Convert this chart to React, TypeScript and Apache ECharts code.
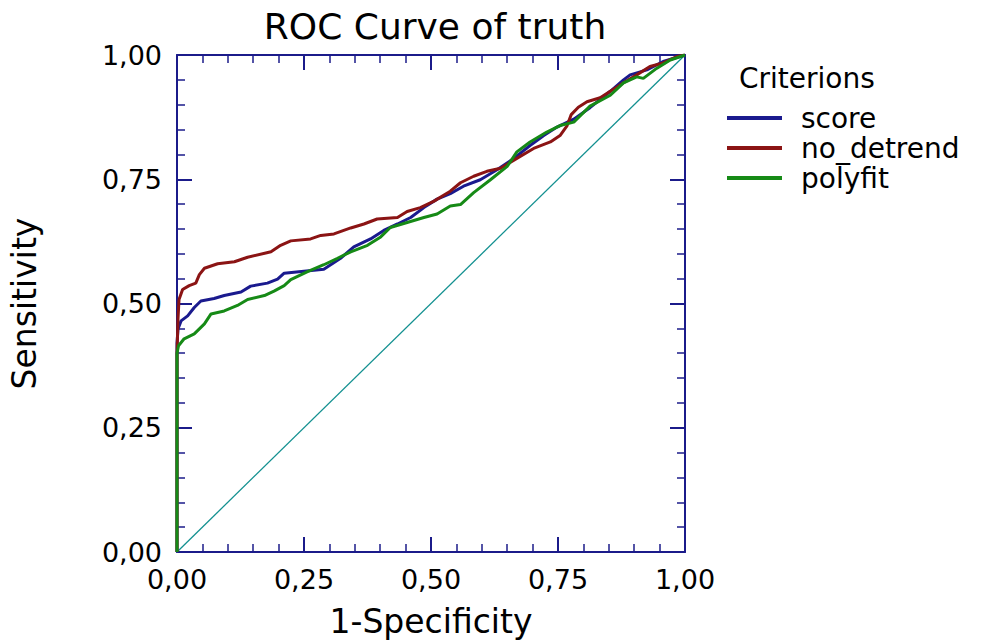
import React, { useEffect, useRef } from "react";
import * as echarts from "echarts";

// ROC curves: [1-Specificity, Sensitivity]
const seriesNames = ["score", "no_detrend", "polyfit"];

const scoreRoc: [number, number][] = [
  [0, 0], [0, 0.42], [0.002, 0.449], [0.008, 0.465], [0.021, 0.475], [0.034, 0.492],
  [0.047, 0.505], [0.073, 0.51], [0.093, 0.516], [0.126, 0.523], [0.145, 0.535],
  [0.178, 0.541], [0.198, 0.549], [0.211, 0.561], [0.24, 0.564], [0.289, 0.569],
  [0.322, 0.591], [0.348, 0.614], [0.381, 0.63], [0.407, 0.647], [0.434, 0.66],
  [0.46, 0.673], [0.486, 0.693], [0.512, 0.71], [0.538, 0.721], [0.564, 0.736],
  [0.597, 0.749], [0.63, 0.769], [0.663, 0.792], [0.695, 0.818], [0.722, 0.838],
  [0.748, 0.855], [0.781, 0.871], [0.813, 0.894], [0.853, 0.927], [0.879, 0.95],
  [0.892, 0.96], [0.925, 0.97], [0.957, 0.987], [1, 1],
];

const noDetrendRoc: [number, number][] = [
  [0, 0], [0, 0.4], [0.002, 0.47], [0.004, 0.508], [0.011, 0.528], [0.024, 0.536],
  [0.037, 0.541], [0.044, 0.558], [0.054, 0.571], [0.08, 0.58], [0.113, 0.584],
  [0.139, 0.593], [0.185, 0.604], [0.204, 0.617], [0.224, 0.626], [0.263, 0.63],
  [0.283, 0.637], [0.309, 0.64], [0.342, 0.652], [0.368, 0.66], [0.394, 0.67],
  [0.434, 0.673], [0.453, 0.685], [0.479, 0.693], [0.506, 0.706], [0.538, 0.726],
  [0.558, 0.743], [0.584, 0.756], [0.61, 0.766], [0.637, 0.772], [0.669, 0.792],
  [0.702, 0.812], [0.735, 0.825], [0.754, 0.838], [0.768, 0.858], [0.776, 0.88],
  [0.79, 0.895], [0.807, 0.906], [0.833, 0.914], [0.859, 0.931], [0.879, 0.944],
  [0.905, 0.96], [0.931, 0.977], [0.957, 0.984], [0.984, 0.997], [1, 1],
];

const polyfitRoc: [number, number][] = [
  [0, 0], [0, 0.4], [0.003, 0.415], [0.014, 0.429], [0.034, 0.439], [0.054, 0.459],
  [0.067, 0.479], [0.093, 0.485], [0.119, 0.496], [0.139, 0.508], [0.172, 0.516],
  [0.191, 0.525], [0.211, 0.536], [0.224, 0.548], [0.257, 0.564], [0.289, 0.578],
  [0.316, 0.591], [0.342, 0.604], [0.375, 0.617], [0.401, 0.634], [0.42, 0.653],
  [0.453, 0.663], [0.486, 0.673], [0.512, 0.68], [0.538, 0.696], [0.558, 0.699],
  [0.584, 0.723], [0.617, 0.749], [0.65, 0.776], [0.669, 0.805], [0.695, 0.825],
  [0.728, 0.845], [0.754, 0.858], [0.781, 0.865], [0.813, 0.897], [0.853, 0.919],
  [0.879, 0.944], [0.905, 0.956], [0.918, 0.953], [0.944, 0.973], [0.971, 0.99], [1, 1],
];

const chanceLine: [number, number][] = [[0, 0], [1, 1]];

const FONT = "DejaVu Sans";
const FRAME = "#1b1b8a";
const COLORS = ["#1a1a8e", "#8b1414", "#168a16"];

const fmt = (v: number) => v.toFixed(2).replace(".", ",");

export default function App() {
  const ref = useRef<HTMLDivElement>(null);

  useEffect(() => {
    if (!ref.current) return;
    const chart = echarts.init(ref.current, null, { renderer: "svg" });

    const axisCommon = {
      type: "value" as const,
      min: 0,
      max: 1,
      interval: 0.25,
      splitLine: { show: false },
      minorSplitLine: { show: false },
      axisLine: { show: true, onZero: false, lineStyle: { color: FRAME, width: 2 } },
      axisTick: { show: true, inside: true, length: 15, lineStyle: { color: FRAME, width: 2 } },
      minorTick: { show: true, splitNumber: 5, length: 8, lineStyle: { color: FRAME, width: 1.5 } },
    };

    const lineSeries = (name: string, data: [number, number][], color: string) => ({
      name,
      type: "line" as const,
      data,
      showSymbol: false,
      symbol: "none",
      lineStyle: { color, width: 3 },
      itemStyle: { color },
      z: 3,
    });

    chart.setOption({
      animation: false,
      backgroundColor: "#ffffff",
      textStyle: { fontFamily: FONT },
      title: [
        {
          text: "ROC Curve of truth",
          left: 430,
          top: 3,
          textAlign: "center",
          textStyle: { fontFamily: FONT, fontSize: 36, fontWeight: "normal", color: "#000" },
        },
        {
          text: "Criterions",
          left: 734,
          top: 59,
          textStyle: { fontFamily: FONT, fontSize: 28, fontWeight: "normal", color: "#000" },
        },
      ],
      legend: {
        orient: "vertical",
        left: 722,
        top: 99,
        data: seriesNames,
        icon: "rect",
        itemWidth: 55,
        itemHeight: 4,
        itemGap: 2,
        textStyle: {
          fontFamily: FONT,
          fontSize: 28,
          color: "#000",
          lineHeight: 26,
          padding: [0, 0, 0, 14],
        },
      },
      grid: { left: 176, top: 55, width: 509, height: 505, containLabel: false },
      xAxis: [
        {
          ...axisCommon,
          position: "bottom",
          name: "1-Specificity",
          nameLocation: "middle",
          nameGap: 53,
          nameTextStyle: { fontFamily: FONT, fontSize: 33, color: "#000" },
          axisLabel: {
            margin: 14,
            formatter: fmt,
            fontFamily: FONT,
            fontSize: 27,
            color: "#000",
          },
        },
        {
          ...axisCommon,
          position: "top",
          axisLabel: { show: false },
        },
      ],
      yAxis: [
        {
          ...axisCommon,
          position: "left",
          name: "Sensitivity",
          nameLocation: "middle",
          nameGap: 136,
          nameRotate: 90,
          nameTextStyle: { fontFamily: FONT, fontSize: 33, color: "#000" },
          axisLabel: {
            margin: 15,
            formatter: fmt,
            fontFamily: FONT,
            fontSize: 27,
            color: "#000",
          },
        },
        {
          ...axisCommon,
          position: "right",
          axisLabel: { show: false },
        },
      ],
      series: [
        {
          name: "chance",
          type: "line",
          data: chanceLine,
          showSymbol: false,
          symbol: "none",
          lineStyle: { color: "#139090", width: 1.3 },
          z: 2,
        },
        lineSeries(seriesNames[0], scoreRoc, COLORS[0]),
        lineSeries(seriesNames[1], noDetrendRoc, COLORS[1]),
        lineSeries(seriesNames[2], polyfitRoc, COLORS[2]),
      ],
    });

    return () => chart.dispose();
  }, []);

  return (
    <div
      ref={ref}
      style={{ position: "fixed", left: 0, top: 0, width: 990, height: 643, background: "#fff" }}
    />
  );
}
